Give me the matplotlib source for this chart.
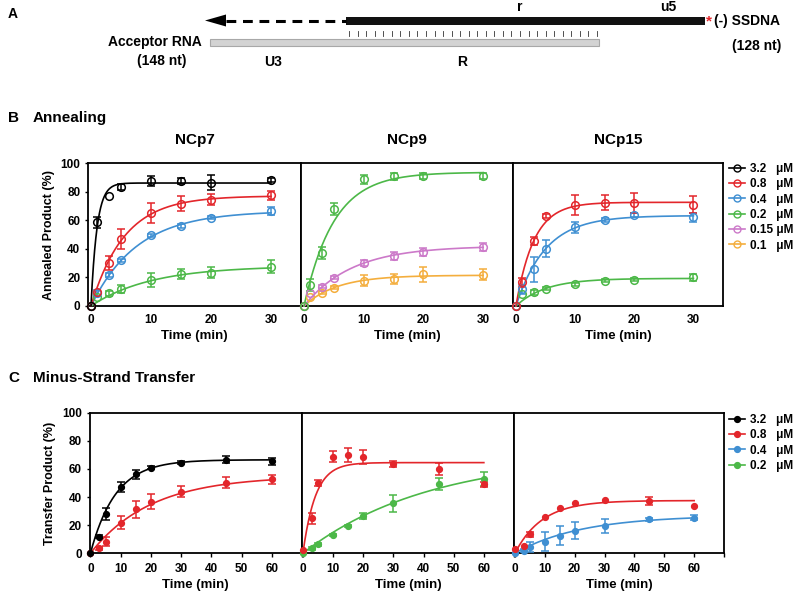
import numpy as np
import matplotlib.pyplot as plt
from matplotlib.lines import Line2D
from matplotlib.patches import Rectangle, Polygon

plt.rcParams['font.family'] = ['Liberation Sans', 'DejaVu Sans']
plt.rcParams['font.weight'] = 'bold'
plt.rcParams['axes.titleweight'] = 'bold'
plt.rcParams['axes.labelweight'] = 'bold'

# colours per NC concentration
c_32, c_08, c_04, c_02, c_015, c_01 = 'black', '#e3262b', '#3f8fd2', '#4cb848', '#cc79c9', '#f4ae3d'

# ---------------- B: annealing ----------------
t_ann = [0, 1, 3, 5, 10, 15, 20, 30]

ncp7_32 = [0, 58.4, 77, 83.3, 87.4, 87.4, 86.3, 88]
ncp7_32_err = [0, 4, 0, 2, 3.5, 2, 5, 1.5]
ncp7_08 = [0, 10, 30.2, 46.7, 64.7, 71.6, 74.4, 77.4]
ncp7_08_err = [0, 0, 5, 7, 7, 5, 4, 3]
ncp7_04 = [0, 9.3, 21.6, 32, 49.5, 55.8, 61.6, 66.3]
ncp7_04_err = [0, 2, 1.5, 1, 1, 1.5, 1, 3]
ncp7_02 = [0, 6.5, 8.8, 11.9, 18.1, 22.1, 23.3, 27.4]
ncp7_02_err = [0, 0, 1.5, 3, 5, 3.5, 4, 4.5]

ncp9_02 = [0, 14.7, 37.2, 67.7, 88.6, 90.7, 90.7, 90.7]
ncp9_02_err = [0, 4, 4, 4, 3, 2.5, 2, 2]
ncp9_015 = [0, 8.8, 13.5, 19.8, 30.2, 35.1, 37.9, 41.4]
ncp9_015_err = [0, 0, 1, 1, 2, 3, 3, 3]
ncp9_01 = [0, 6.5, 9.3, 12.8, 17.7, 19.1, 22.1, 21.9]
ncp9_01_err = [0, 0, 1, 1, 4, 3.5, 5.5, 4]

ncp15_08 = [0, 16.5, 45.6, 62.8, 70.5, 72.3, 72.3, 70.9]
ncp15_08_err = [0, 3, 3, 1.5, 7, 5, 7, 6]
ncp15_04 = [0, 11.6, 25.6, 40.2, 54.9, 60, 63.5, 61.9]
ncp15_04_err = [0, 3, 9, 6, 4, 1.5, 1.5, 3]
ncp15_02 = [0, 8.4, 9.5, 12.1, 15.1, 17.7, 18.4, 20]
ncp15_02_err = [0, 0, 2, 1, 1, 1, 1, 2.5]

# single-exponential fits (plateau %, rate 1/min)
fit_ncp7 = [(86, 1.0), (77, 0.18), (66.5, 0.13), (28, 0.1)]
fit_ncp9 = [(93.5, 0.2), (42, 0.125), (21.5, 0.18)]
fit_ncp15 = [(72.5, 0.33), (63.2, 0.2), (19.3, 0.2)]

# ---------------- C: minus-strand transfer ----------------
t_tr = [0, 3, 5, 10, 15, 20, 30, 45, 60]

tr7_32 = [0, 11.8, 28, 47.4, 56.2, 60.9, 64.5, 66.4, 65.6]
tr7_32_err = [0, 1, 4, 3.5, 3, 1, 1, 2.5, 2.5]
tr7_08 = [0, 3.6, 8.3, 21.8, 31.3, 36.7, 43.8, 50.2, 52.6]
tr7_08_err = [0, 1, 3, 4.5, 6, 5.5, 4, 4, 3]

tr9_08 = [2.4, 24.9, 49.8, 68.7, 69.9, 68.7, 63.5, 60, 49]
tr9_08_err = [0, 4, 2, 4, 5, 5, 2, 4, 2]
tr9_02 = [0, 3.6, 6.4, 13, 19.4, 26.5, 35.5, 49.3, 52.6]
tr9_02_err = [0, 1, 1, 1, 1, 2, 6, 4, 5]

tr15_08 = [3, 5.5, 13.5, 26, 32.5, 35.5, 37.9, 37.2, 33.9]
tr15_08_err = [0, 0, 2, 0, 0, 0, 0, 2.5, 0]
tr15_04 = [0, 1.9, 4.3, 8.3, 12.6, 16.1, 19.7, 24.2, 25.4]
tr15_04_err = [0, 1, 3.5, 7, 7, 6, 5, 1, 2]

fit_tr7 = [(66.5, 0.12), (55, 0.05)]
fit_tr9 = [(64.5, 0.24), (70, 0.024)]
fit_tr15 = [(37.5, 0.11), (27, 0.045)]

titles = ['NCp7', 'NCp9', 'NCp15']
legend_b = ['3.2', '0.8', '0.4', '0.2', '0.15', '0.1']
legend_c = ['3.2', '0.8', '0.4', '0.2']
legend_b_cols = [c_32, c_08, c_04, c_02, c_015, c_01]
legend_c_cols = [c_32, c_08, c_04, c_02]


def series(ax, t, y, err, fit, color, filled, tmax):
    tt = np.linspace(0, tmax, 300)
    ax.plot(tt, fit[0] * (1 - np.exp(-fit[1] * tt)), color=color, lw=1.2, clip_on=False, zorder=3)
    t = np.array(t); y = np.array(y); err = np.array(err)
    m = err > 0
    ax.errorbar(t[m], y[m], yerr=err[m], fmt='none', ecolor=color, elinewidth=1.1,
                capsize=3, capthick=1.1, clip_on=False, zorder=4)
    if filled:
        ax.plot(t, y, 'o', color=color, ms=4.2, clip_on=False, zorder=5)
    else:
        ax.plot(t, y, 'o', mec=color, mfc='none', mew=1.1, ms=5.5, clip_on=False, zorder=5)


def conc_label(c):
    # a digit is two spaces wide, so the unit lines up
    pad = ' ' if len(c) == 4 else '   '
    return c + pad + 'μM'


fig = plt.figure(figsize=(8, 5.94), dpi=100)

# overlay in figure pixels for panel A and panel letters
ov = fig.add_axes([0, 0, 1, 1], zorder=-1)
ov.set_xlim(0, 800)
ov.set_ylim(594, 0)
ov.axis('off')

ov.text(8, 14, 'A', fontsize=10, va='center')
ov.text(8, 118, 'B', fontsize=11, va='center')
ov.text(33, 118, 'Annealing', fontsize=11, va='center')
ov.text(8, 378, 'C', fontsize=11, va='center')
ov.text(33, 378, 'Minus-Strand Transfer', fontsize=11, va='center')

# panel A schematic
ov.add_patch(Rectangle((346, 16.5), 359, 8, color='#111111', lw=0))
ov.plot([226, 346], [20.5, 20.5], color='black', lw=2.2, ls=(0, (3.2, 2.2)))
ov.add_patch(Polygon([[205, 20.5], [226, 14.5], [226, 26.5]], closed=True, color='black', lw=0))
ov.add_patch(Rectangle((210, 38.5), 389, 7.5, facecolor='#d3d3d3', edgecolor='#a8a8a8', lw=0.8))
for xt in np.linspace(349, 597, 30):
    ov.plot([xt, xt], [31, 35.5], color='#333333', lw=0.6)
ov.text(709, 21.5, '*', color='#e3262b', fontsize=11, ha='center', va='center')
ov.text(714, 20.5, '(-) SSDNA', fontsize=10, va='center')
ov.text(781, 46, '(128 nt)', fontsize=10, va='center', ha='right')
ov.text(520, 7, 'r', fontsize=10, va='center', ha='center')
ov.text(668, 7, 'u5', fontsize=10, va='center', ha='center')
ov.text(202, 42, 'Acceptor RNA', fontsize=10, va='center', ha='right')
ov.text(162, 61, '(148 nt)', fontsize=10, va='center', ha='center')
ov.text(273, 62, 'U3', fontsize=10, va='center', ha='center')
ov.text(462, 62, 'R', fontsize=10, va='center', ha='center')

W, H = 800.0, 594.0
xb = [88, 301, 513, 723]
xc = [89.5, 302, 514, 724]


def make_axes(xs, top, bottom):
    axs = []
    for i in range(3):
        ax = fig.add_axes([xs[i] / W, 1 - bottom / H, (xs[i + 1] - xs[i]) / W, (bottom - top) / H])
        for s in ax.spines.values():
            s.set_linewidth(1.3)
        ax.set_ylim(0, 100)
        ax.set_yticks([0, 20, 40, 60, 80, 100])
        ax.tick_params(labelsize=8.5, width=1, length=2)
        if i > 0:
            ax.tick_params(axis='y', left=False, labelleft=False)
        ax.set_xlabel('Time (min)', fontsize=9.5, labelpad=3)
        axs.append(ax)
    return axs


axB = make_axes(xb, 163, 306)
for ax, title in zip(axB, titles):
    ax.set_xlim(-0.5, 35)
    ax.set_xticks([0, 10, 20, 30])
    ax.tick_params(axis='x', length=0, pad=6)
    ax.set_title(title, fontsize=11, pad=14)
axB[0].set_ylabel('Annealed Product (%)', fontsize=9, labelpad=4)

series(axB[0], t_ann, ncp7_02, ncp7_02_err, fit_ncp7[3], c_02, False, 30)
series(axB[0], t_ann, ncp7_04, ncp7_04_err, fit_ncp7[2], c_04, False, 30)
series(axB[0], t_ann, ncp7_08, ncp7_08_err, fit_ncp7[1], c_08, False, 30)
series(axB[0], t_ann, ncp7_32, ncp7_32_err, fit_ncp7[0], c_32, False, 30)

series(axB[1], t_ann, ncp9_01, ncp9_01_err, fit_ncp9[2], c_01, False, 30)
series(axB[1], t_ann, ncp9_015, ncp9_015_err, fit_ncp9[1], c_015, False, 30)
series(axB[1], t_ann, ncp9_02, ncp9_02_err, fit_ncp9[0], c_02, False, 30)

series(axB[2], t_ann, ncp15_02, ncp15_02_err, fit_ncp15[2], c_02, False, 30)
series(axB[2], t_ann, ncp15_04, ncp15_04_err, fit_ncp15[1], c_04, False, 30)
series(axB[2], t_ann, ncp15_08, ncp15_08_err, fit_ncp15[0], c_08, False, 30)

axC = make_axes(xc, 412.7, 553.3)
for ax in axC:
    ax.set_xlim(-0.3, 70)
    ax.set_xticks([0, 10, 20, 30, 40, 50, 60, 70])
    ax.set_xticklabels(['0', '10', '20', '30', '40', '50', '60', ''])
    ax.tick_params(axis='x', length=3, pad=4)
axC[0].set_ylabel('Transfer Product (%)', fontsize=9, labelpad=4)

series(axC[0], t_tr, tr7_08, tr7_08_err, fit_tr7[1], c_08, True, 60)
series(axC[0], t_tr, tr7_32, tr7_32_err, fit_tr7[0], c_32, True, 60)
series(axC[1], t_tr, tr9_02, tr9_02_err, fit_tr9[1], c_02, True, 60)
series(axC[1], t_tr, tr9_08, tr9_08_err, fit_tr9[0], c_08, True, 60)
series(axC[2], t_tr, tr15_04, tr15_04_err, fit_tr15[1], c_04, True, 60)
series(axC[2], t_tr, tr15_08, tr15_08_err, fit_tr15[0], c_08, True, 60)

# legends
leg_kw = dict(loc='upper left', frameon=False, fontsize=8.5, handlelength=1.35, handletextpad=0.4,
              labelspacing=0.28, borderaxespad=0, borderpad=0)
hb = [Line2D([], [], color=c, lw=1.2, marker='o', mfc='none', mec=c, ms=5) for c in legend_b_cols]
fig.legend(hb, [conc_label(c) for c in legend_b], bbox_to_anchor=(729 / W, 1 - 163 / H), **leg_kw)
hc = [Line2D([], [], color=c, lw=1.2, marker='o', ms=4.2) for c in legend_c_cols]
fig.legend(hc, [conc_label(c) for c in legend_c], bbox_to_anchor=(729 / W, 1 - 414 / H), **leg_kw)

fig.savefig('out.png', dpi=100)
